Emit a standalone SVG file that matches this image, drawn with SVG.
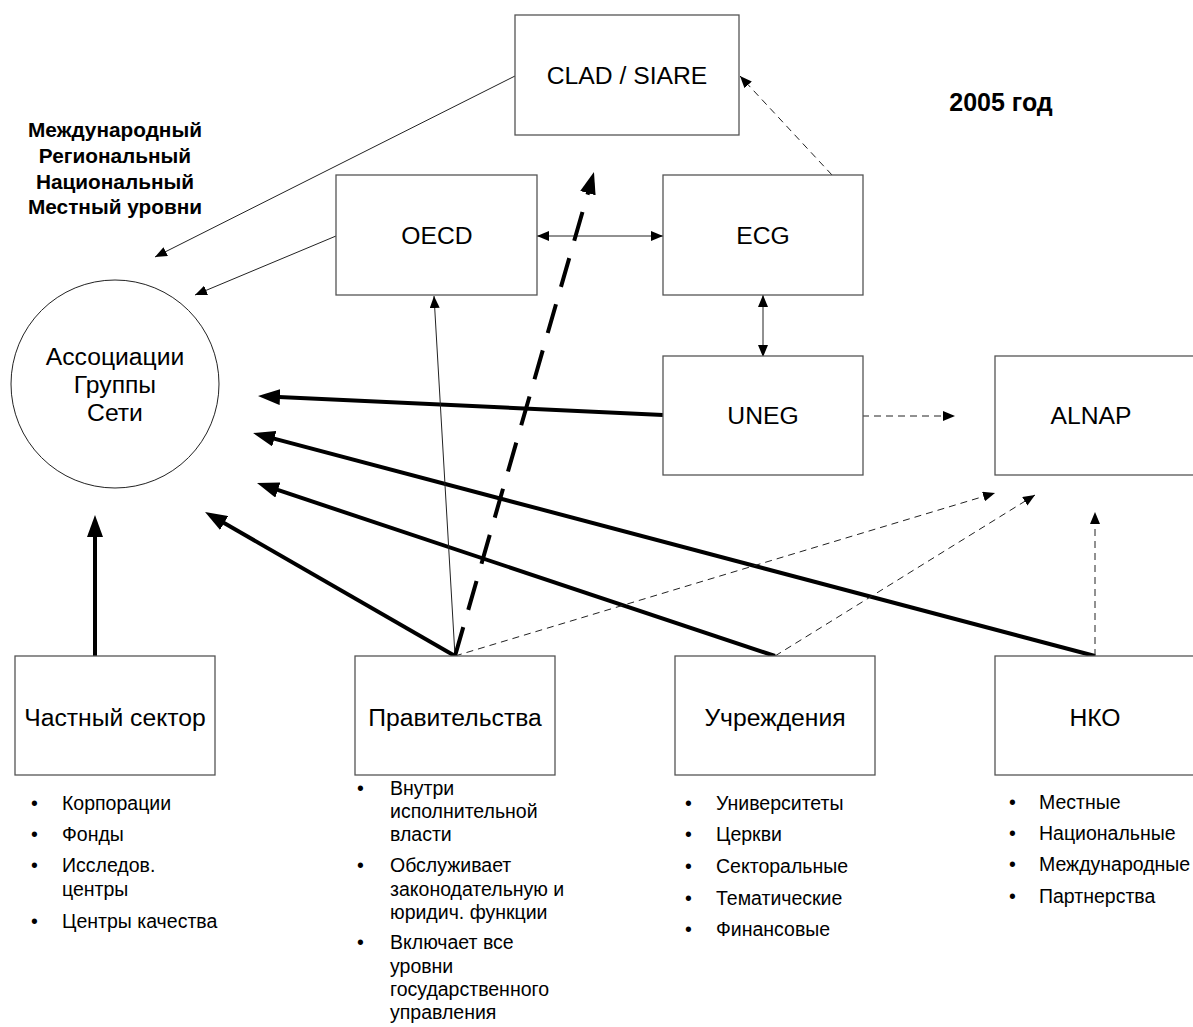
<svg xmlns="http://www.w3.org/2000/svg" width="1193" height="1027" viewBox="0 0 1193 1027">
<defs>
<style>
.box{fill:#fff;stroke:#555;stroke-width:1.3}
.lbl{font-family:"Liberation Sans",Arial,sans-serif;font-size:24.7px;fill:#000;text-anchor:middle}
.bold{font-family:"Liberation Sans",Arial,sans-serif;font-weight:bold;fill:#000;text-anchor:middle}
.li{font-family:"Liberation Sans",Arial,sans-serif;font-size:19.5px;fill:#000}
.thin{fill:none;stroke:#222;stroke-width:1}
.dash{fill:none;stroke:#222;stroke-width:1;stroke-dasharray:7 5}
.thick{fill:none;stroke:#000;stroke-width:4}
.tdash{fill:none;stroke:#000;stroke-width:4;stroke-dasharray:30 18}
</style>
<marker id="ah" markerUnits="userSpaceOnUse" viewBox="0 0 12 10" markerWidth="12" markerHeight="10" refX="12" refY="5" orient="auto-start-reverse">
<path d="M0,0 L12,5 L0,10 z" fill="#000"/>
</marker>
<marker id="ahb" markerUnits="userSpaceOnUse" viewBox="0 0 22 16" markerWidth="22" markerHeight="16" refX="12" refY="8" orient="auto">
<path d="M0,0 L22,8 L0,16 z" fill="#000"/>
</marker>
</defs>
<rect width="1193" height="1027" fill="#fff"/>

<g id="connectors">
<path class="thin" d="M515,76 L155,257" marker-end="url(#ah)"/>
<path class="thin" d="M336,236 L195,295" marker-end="url(#ah)"/>
<path class="thin" d="M537,236 L663,236" marker-start="url(#ah)" marker-end="url(#ah)"/>
<path class="thin" d="M763,295 L763,357" marker-start="url(#ah)" marker-end="url(#ah)"/>
<path class="dash" d="M832,175 L740,76" marker-end="url(#ah)"/>
<path class="dash" d="M862,416 L955,416" marker-end="url(#ah)"/>
<path class="thick" d="M663,415 L268,396.5" marker-end="url(#ahb)"/>
<path class="thick" d="M1095,656 L262.7,435.6" marker-end="url(#ahb)"/>
<path class="thick" d="M775,656 L266.5,486.2" marker-end="url(#ahb)"/>
<path class="thick" d="M455,656 L213.7,517" marker-end="url(#ahb)"/>
<path class="thick" d="M95,656 L95,525" marker-end="url(#ahb)"/>
<path class="thin" d="M455,656 L434,296" marker-end="url(#ah)"/>
<path class="tdash" d="M455,656 L591.2,181.6" marker-end="url(#ahb)"/>
<path class="dash" d="M455,656 L995,493" marker-end="url(#ah)"/>
<path class="dash" d="M775,656 L1035,495" marker-end="url(#ah)"/>
<path class="dash" d="M1095,656 L1095,512" marker-end="url(#ah)"/>
</g>

<g id="clad"><rect class="box" x="515" y="15" width="224" height="120"/><text class="lbl" x="627" y="84">CLAD / SIARE</text></g>
<g id="oecd"><rect class="box" x="336" y="175" width="201" height="120"/><text class="lbl" x="437" y="244">OECD</text></g>
<g id="ecg"><rect class="box" x="663" y="175" width="200" height="120"/><text class="lbl" x="763" y="244">ECG</text></g>
<g id="uneg"><rect class="box" x="663" y="356" width="200" height="119"/><text class="lbl" x="763" y="424">UNEG</text></g>
<g id="alnap"><rect class="box" x="995" y="356" width="210" height="119"/><text class="lbl" x="1091" y="424">ALNAP</text></g>

<g id="assoc">
<circle cx="115" cy="384" r="104" fill="#fff" stroke="#222" stroke-width="1"/>
<text class="lbl" x="115" y="365">Ассоциации</text>
<text class="lbl" x="115" y="393">Группы</text>
<text class="lbl" x="115" y="421">Сети</text>
</g>

<g id="levels">
<text class="bold" x="115" y="137" font-size="20.8">Международный</text>
<text class="bold" x="115" y="163" font-size="20.8">Региональный</text>
<text class="bold" x="115" y="189" font-size="20.8">Национальный</text>
<text class="bold" x="115" y="214" font-size="20.8">Местный уровни</text>
</g>
<g id="year"><text class="bold" x="1001" y="111" font-size="25">2005 год</text></g>

<g id="private">
<rect class="box" x="15" y="656" width="200" height="119"/>
<text class="lbl" x="115" y="726">Частный сектор</text>
<g class="li">
<text x="31" y="810">•</text><text x="62" y="810">Корпорации</text>
<text x="31" y="841">•</text><text x="62" y="841">Фонды</text>
<text x="31" y="872">•</text><text x="62" y="872">Исследов.</text>
<text x="62" y="896">центры</text>
<text x="31" y="928">•</text><text x="62" y="928">Центры качества</text>
</g>
</g>

<g id="gov">
<rect class="box" x="355" y="656" width="200" height="119"/>
<text class="lbl" x="455" y="726">Правительства</text>
<g class="li">
<text x="357" y="795">•</text><text x="390" y="795">Внутри</text>
<text x="390" y="818">исполнительной</text>
<text x="390" y="841">власти</text>
<text x="357" y="872">•</text><text x="390" y="872">Обслуживает</text>
<text x="390" y="896">законодательную и</text>
<text x="390" y="919">юридич. функции</text>
<text x="357" y="949">•</text><text x="390" y="949">Включает все</text>
<text x="390" y="973">уровни</text>
<text x="390" y="996">государственного</text>
<text x="390" y="1019">управления</text>
</g>
</g>

<g id="inst">
<rect class="box" x="675" y="656" width="200" height="119"/>
<text class="lbl" x="775" y="726">Учреждения</text>
<g class="li">
<text x="685" y="810">•</text><text x="716" y="810">Университеты</text>
<text x="685" y="841">•</text><text x="716" y="841">Церкви</text>
<text x="685" y="873">•</text><text x="716" y="873">Секторальные</text>
<text x="685" y="905">•</text><text x="716" y="905">Тематические</text>
<text x="685" y="936">•</text><text x="716" y="936">Финансовые</text>
</g>
</g>

<g id="ngo">
<rect class="box" x="995" y="656" width="210" height="119"/>
<text class="lbl" x="1095" y="726">НКО</text>
<g class="li">
<text x="1009" y="809">•</text><text x="1039" y="809">Местные</text>
<text x="1009" y="840">•</text><text x="1039" y="840">Национальные</text>
<text x="1009" y="871">•</text><text x="1039" y="871">Международные</text>
<text x="1009" y="903">•</text><text x="1039" y="903">Партнерства</text>
</g>
</g>
</svg>
